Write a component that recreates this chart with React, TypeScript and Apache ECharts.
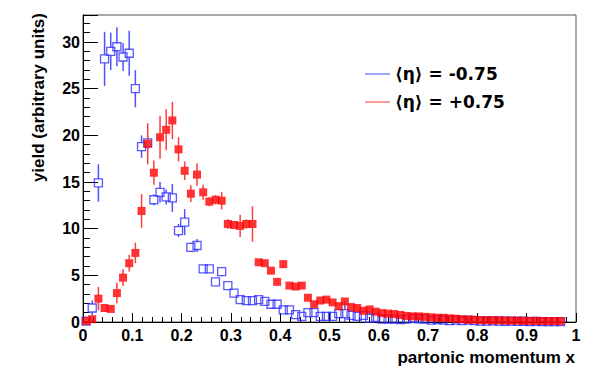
import React, { useEffect, useRef } from "react";
import * as echarts from "echarts";

// bin centres of the histogram (80 bins between 0 and 1)
const xCenters = [
  0.00625, 0.01875, 0.03125, 0.04375, 0.05625, 0.06875, 0.08125, 0.09375, 0.10625, 0.11875,
  0.13125, 0.14375, 0.15625, 0.16875, 0.18125, 0.19375, 0.20625, 0.21875, 0.23125, 0.24375,
  0.25625, 0.26875, 0.28125, 0.29375, 0.30625, 0.31875, 0.33125, 0.34375, 0.35625, 0.36875,
  0.38125, 0.39375, 0.40625, 0.41875, 0.43125, 0.44375, 0.45625, 0.46875, 0.48125, 0.49375,
  0.50625, 0.51875, 0.53125, 0.54375, 0.55625, 0.56875, 0.58125, 0.59375, 0.60625, 0.61875,
  0.63125, 0.64375, 0.65625, 0.66875, 0.68125, 0.69375, 0.70625, 0.71875, 0.73125, 0.74375,
  0.75625, 0.76875, 0.78125, 0.79375, 0.80625, 0.81875, 0.83125, 0.84375, 0.85625, 0.86875,
  0.88125, 0.89375, 0.90625, 0.91875, 0.93125, 0.94375, 0.95625, 0.96875, 0.98125, 0.99375,
];

// <eta> = -0.75 (blue, open squares)
const blueValues: (number | null)[] = [
  0.1, 1.5, 14.9, 28.2, 29.0, 29.5, 28.4, 28.8, 25.0, 18.8,
  19.2, 13.1, 13.9, 13.4, 13.3, 9.8, 10.7, 8.0, 8.2, 5.7,
  5.7, 4.3, 5.4, 3.9, 3.1, 2.4, 2.3, 2.3, 2.4, 2.2,
  1.9, 1.9, 1.3, 1.3, 0.8, 0.6, 1.0, 1.0, 0.6, 0.6,
  0.6, 0.9, 0.9, 0.7, 0.6, 0.7, 0.4, 0.5, 0.3, 0.3,
  0.3, 0.25, 0.3, 0.4, 0.35, 0.3, 0.2, 0.25, 0.2, 0.15,
  0.2, 0.15, 0.2, 0.15, 0.1, 0.1, 0.12, 0.1, 0.08, 0.1,
  0.06, 0.08, 0.05, 0.06, 0.05, 0.04, 0.04, 0.03, null, null,
];
const blueErrors = [
  0.2, 0.8, 2.0, 2.9, 2.0, 2.1, 1.5, 2.4, 2.0, 1.2,
  0.7, 0.6, 1.1, 0.8, 1.5, 0.7, 1.4, 0.5, 0.7, 0.4,
  0.3, 0.3, 0.5, 0.3, 0.3, 0.25, 0.3, 0.25, 0.3, 0.25,
  0.3, 0.3, 0.3, 0.3, 0.3, 0.3, 0.4, 0.4, 0.3, 0.3,
  0.3, 0.4, 1.3, 0.4, 0.3, 0.4, 0.8, 0.3, 0.3, 0.3,
  0.2, 0.2, 0.3, 0.3, 0.2, 0.2, 0.2, 0.2, 0.2, 0.2,
  0.2, 0.15, 0.15, 0.15, 0.1, 0.1, 0.1, 0.1, 0.1, 0.1,
  0.08, 0.08, 0.06, 0.06, 0.05, 0.05, 0.05, 0.04, 0, 0,
];

// <eta> = +0.75 (red, full squares)
const redValues: (number | null)[] = [
  0.1, 0.3, 2.5, 1.5, 1.4, 3.1, 4.75, 6.3, 7.4, 11.9,
  19.1, 16.0, 19.8, 20.6, 21.6, 18.5, 16.2, 13.75, 15.8, 13.9,
  12.9, 13.1, 13.0, 10.5, 10.4, 10.3, 10.5, 10.5, 6.4, 6.3,
  5.5, 4.3, 6.2, 3.9, 3.8, 3.9, 2.6, 1.9, 2.3, 2.4,
  2.1, 1.7, 2.2, 1.6, 1.5, 1.2, 1.35, 1.1, 0.95, 0.9,
  0.85, 0.75, 0.65, 0.6, 0.6, 0.55, 0.5, 0.45, 0.45, 0.4,
  0.35, 0.3, 0.25, 0.25, 0.2, 0.2, 0.18, 0.18, 0.15, 0.15,
  0.15, 0.12, 0.12, 0.12, 0.1, 0.1, 0.1, 0.1, null, null,
];
const redErrors = [
  0.2, 0.3, 1.25, 0.4, 0.3, 1.1, 0.9, 0.9, 1.1, 1.8,
  2.2, 1.3, 2.3, 2.2, 2.0, 1.3, 1.0, 0.9, 1.2, 0.8,
  0.5, 0.5, 0.95, 0.5, 0.4, 1.2, 0.5, 1.9, 0.3, 0.3,
  0.3, 0.3, 0.4, 0.3, 0.3, 0.3, 0.3, 0.3, 0.3, 0.3,
  0.3, 0.3, 0.3, 0.3, 0.3, 0.3, 0.3, 0.2, 0.2, 0.2,
  0.2, 0.2, 0.2, 0.2, 0.2, 0.15, 0.15, 0.15, 0.15, 0.15,
  0.12, 0.12, 0.12, 0.1, 0.1, 0.1, 0.1, 0.1, 0.1, 0.1,
  0.08, 0.08, 0.08, 0.08, 0.06, 0.06, 0.06, 0.06, 0, 0,
];

const seriesNames = ["\u27E8\u03B7\u27E9 = -0.75", "\u27E8\u03B7\u27E9 = +0.75"];
const xTitle = "partonic momentum x";
const yTitle = "yield (arbitrary units)";

const BLUE = "#3030ff";
const BLUE_LINE = "#5050ff";
const RED = "#ff0000";
const RED_LINE = "#ff3c3c";
const FONT = "Liberation Sans";
const LEGEND_FONT = "DejaVu Sans";

function buildPoints(values: (number | null)[], errors: number[]) {
  const out: number[][] = [];
  values.forEach((v, i) => {
    if (v !== null) out.push([xCenters[i], v, errors[i]]);
  });
  return out;
}

function errRenderer(color: string, half: number) {
  return (params: any, api: any) => {
    const x = api.value(0);
    const v = api.value(1);
    const e = api.value(2);
    const c = api.coord([x, v]);
    const t = api.coord([x, v + e]);
    const b = api.coord([x, Math.max(0, v - e)]);
    const children: any[] = [];
    if (c[1] - half > t[1]) {
      children.push({
        type: "line",
        shape: { x1: c[0], y1: t[1], x2: c[0], y2: c[1] - half },
        style: { stroke: color, lineWidth: 1.5 },
      });
    }
    if (b[1] > c[1] + half) {
      children.push({
        type: "line",
        shape: { x1: c[0], y1: c[1] + half, x2: c[0], y2: b[1] },
        style: { stroke: color, lineWidth: 1.5 },
      });
    }
    return { type: "group", children };
  };
}

export default function App() {
  const ref = useRef<HTMLDivElement>(null);
  useEffect(() => {
    if (!ref.current) return;
    const chart = echarts.init(ref.current, undefined, { renderer: "svg" });
    const bluePts = buildPoints(blueValues, blueErrors);
    const redPts = buildPoints(redValues, redErrors);
    const labelStyle = { fontFamily: FONT, fontWeight: "bold" as const, fontSize: 16, color: "#000" };
    chart.setOption({
      animation: false,
      backgroundColor: "#fff",
      grid: {
        left: 83,
        right: 24,
        top: 15,
        bottom: 53,
        show: true,
        borderColor: "#555",
        borderWidth: 1,
        backgroundColor: "transparent",
      },
      legend: {
        orient: "vertical",
        left: 365,
        top: 65,
        padding: 0,
        itemGap: 10,
        itemWidth: 25,
        itemHeight: 1.3,
        selectedMode: false,
        textStyle: { fontFamily: LEGEND_FONT, fontWeight: "bold", fontSize: 17, color: "#000", lineHeight: 18 },
        data: [
          { name: seriesNames[0], icon: "rect", itemStyle: { color: BLUE_LINE, borderWidth: 0 } },
          { name: seriesNames[1], icon: "rect", itemStyle: { color: RED_LINE, borderWidth: 0 } },
        ],
      },
      xAxis: [
        {
          type: "value",
          min: 0,
          max: 1,
          interval: 0.1,
          axisLine: { show: true, lineStyle: { color: "#000", width: 1 } },
          axisTick: { show: true, inside: true, length: 9, lineStyle: { color: "#000" } },
          splitLine: { show: false },
          axisLabel: { ...labelStyle, margin: 5 },
        },
        {
          type: "value",
          min: 0,
          max: 1,
          interval: 0.02,
          position: "bottom",
          axisLine: { show: false },
          axisTick: { show: true, inside: true, length: 5, lineStyle: { color: "#000" } },
          splitLine: { show: false },
          axisLabel: { show: false },
        },
      ],
      yAxis: [
        {
          type: "value",
          min: 0,
          max: 32.9,
          interval: 5,
          axisLine: { show: true, lineStyle: { color: "#000", width: 1 } },
          axisTick: { show: true, inside: true, length: 15, lineStyle: { color: "#000" } },
          splitLine: { show: false },
          axisLabel: {
            ...labelStyle,
            margin: 3,
            formatter: (v: number) => (Math.abs(v % 5) < 1e-6 ? String(v) : ""),
          },
        },
        {
          type: "value",
          min: 0,
          max: 32.9,
          interval: 1,
          position: "left",
          axisLine: { show: false },
          axisTick: { show: true, inside: true, length: 7, lineStyle: { color: "#000" } },
          splitLine: { show: false },
          axisLabel: { show: false },
        },
      ],
      graphic: [
        {
          type: "text",
          x: 575,
          y: 357,
          style: {
            text: xTitle,
            font: `bold 17px "${FONT}"`,
            fill: "#000",
            align: "right",
            verticalAlign: "middle",
          },
        },
        {
          type: "text",
          x: 38,
          y: 13,
          rotation: Math.PI / 2,
          style: {
            text: yTitle,
            font: `bold 17px "${FONT}"`,
            fill: "#000",
            align: "right",
            verticalAlign: "middle",
          },
        },
      ],
      series: [
        {
          type: "custom",
          name: "blueErr",
          xAxisIndex: 0,
          yAxisIndex: 0,
          data: bluePts,
          encode: { x: 0, y: 1 },
          renderItem: errRenderer(BLUE_LINE, 4),
          silent: true,
          clip: true,
          z: 2,
        },
        {
          type: "scatter",
          name: seriesNames[0],
          xAxisIndex: 0,
          yAxisIndex: 0,
          data: bluePts.map((p) => [p[0], p[1]]),
          symbol: "rect",
          symbolSize: 8,
          itemStyle: { color: "rgba(255,255,255,0)", borderColor: BLUE, borderWidth: 1.3 },
          clip: true,
          z: 3,
        },
        {
          type: "custom",
          name: "redErr",
          xAxisIndex: 0,
          yAxisIndex: 0,
          data: redPts,
          encode: { x: 0, y: 1 },
          renderItem: errRenderer(RED_LINE, 3.5),
          silent: true,
          clip: true,
          z: 4,
        },
        {
          type: "scatter",
          name: seriesNames[1],
          xAxisIndex: 0,
          yAxisIndex: 0,
          data: redPts.map((p) => [p[0], p[1]]),
          symbol: "rect",
          symbolSize: 8,
          itemStyle: { color: RED, borderWidth: 0 },
          clip: true,
          z: 5,
        },
      ],
    });
    return () => chart.dispose();
  }, []);
  return (
    <div
      ref={ref}
      style={{ position: "fixed", left: 0, top: 0, width: 600, height: 375, background: "#fff" }}
    />
  );
}
